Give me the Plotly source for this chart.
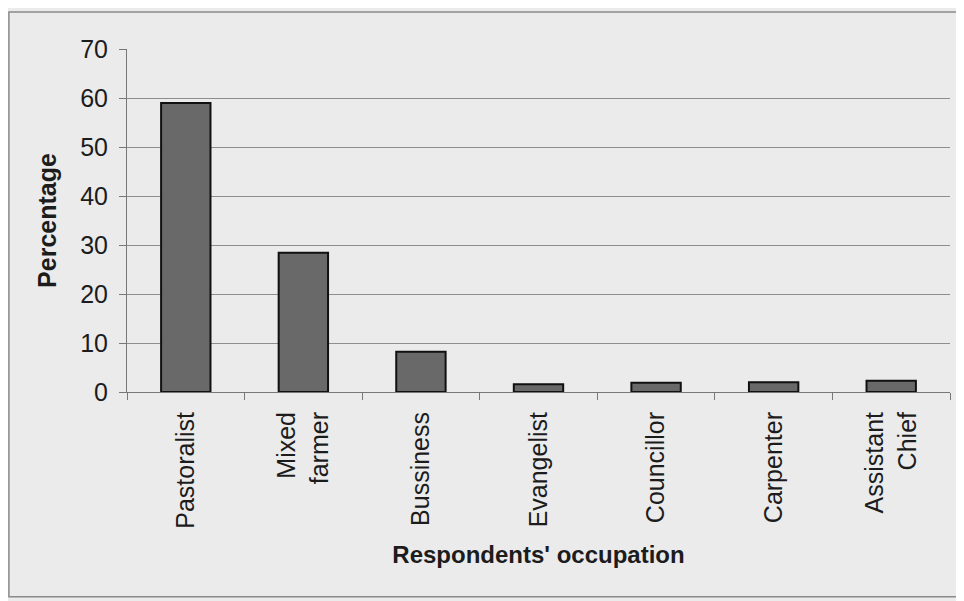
import plotly.graph_objects as go

categories = ["Pastoralist", "Mixed<br>farmer", "Bussiness", "Evangelist",
              "Councillor", "Carpenter", "Assistant<br>Chief"]
percentages = [59.0, 28.4, 8.2, 1.6, 1.9, 2.0, 2.3]
y_ticks = [0, 10, 20, 30, 40, 50, 60, 70]

FONT = "Liberation Sans, Arial, sans-serif"
TXT = "#1c1c1c"

fig = go.Figure(go.Bar(
    x=categories, y=percentages,
    marker=dict(color="#696969", line=dict(color="#111111", width=2)),
    width=0.42,
))

fig.update_layout(
    width=956, height=593,
    margin=dict(l=119, r=14, t=41, b=209),
    paper_bgcolor="#ebebeb", plot_bgcolor="#ebebeb",
    font=dict(family=FONT, size=25, color=TXT),
    showlegend=False,
    xaxis=dict(
        type="category",
        tickangle=-90,
        ticks="outside", tickson="boundaries", ticklen=7,
        tickcolor="#777777", tickwidth=1,
        showline=True, linecolor="#777777", linewidth=1,
        showgrid=False,
        tickfont=dict(family=FONT, size=25, color=TXT),
        ticklabelstandoff=9,
        title=dict(text="<b>Respondents' occupation</b>",
                   font=dict(family=FONT, size=24, color=TXT), standoff=18),
    ),
    yaxis=dict(
        range=[0, 70], tickvals=y_ticks,
        ticks="outside", ticklen=7, tickcolor="#777777", tickwidth=1,
        showline=True, linecolor="#777777", linewidth=1,
        showgrid=True, gridcolor="#8e8e8e", gridwidth=1,
        zeroline=False,
        tickfont=dict(family=FONT, size=25, color=TXT),
        ticklabelstandoff=6,
        title=dict(text="<b>Percentage</b>",
                   font=dict(family=FONT, size=25, color=TXT), standoff=16),
    ),
    shapes=[dict(type="rect", xref="paper", yref="paper",
                 x0=-0.1435, x1=1.0097, y0=-0.597, y1=1.108,
                 line=dict(color="#8a8a8a", width=1.5), layer="below")],
)

fig.write_html("out.html")
